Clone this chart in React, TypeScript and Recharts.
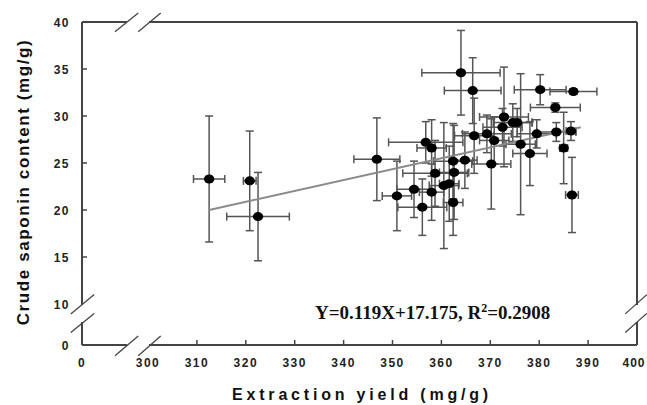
import React from 'react';
import { ScatterChart, Scatter, XAxis, YAxis, ErrorBar, ReferenceLine } from 'recharts';

// ---- data ----
const xValues = [312.5, 320.8, 322.5, 346.8, 350.9, 354.4, 356.1, 356.8, 358.0, 358.0, 358.7, 360.5, 361.6, 362.4, 362.4, 362.6, 364.0, 364.8, 366.4, 366.7, 369.3, 370.2, 370.8, 372.5, 372.8, 374.6, 375.5, 376.2, 378.1, 379.5, 380.2, 383.3, 383.5, 385.0, 386.7, 387.0, 386.5];
const yValues = [23.3, 23.1, 19.3, 25.4, 21.5, 22.2, 20.3, 27.2, 26.6, 21.9, 23.9, 22.6, 22.8, 20.8, 25.2, 24.0, 34.6, 25.3, 32.7, 27.9, 28.1, 24.9, 27.4, 28.8, 29.9, 29.3, 29.3, 27.0, 26.0, 28.1, 32.8, 30.9, 28.3, 26.6, 21.6, 32.6, 28.4];
const xErrors = [3.2, 1.3, 6.4, 4.7, 3.0, 3.5, 5.0, 7.6, 3.0, 2.5, 6.6, 3.0, 2.0, 2.0, 4.0, 3.0, 8.0, 2.5, 5.8, 4.0, 5.0, 4.0, 3.0, 4.0, 5.0, 4.0, 3.0, 3.0, 3.5, 4.0, 5.3, 5.1, 4.0, 0.8, 1.3, 4.8, 1.0];
const yErrors = [6.7, 5.3, 4.7, 4.4, 3.7, 3.0, 3.0, 2.2, 3.0, 3.0, 3.5, 6.7, 4.0, 3.5, 4.0, 5.0, 4.5, 3.0, 3.5, 4.0, 2.0, 4.8, 2.5, 2.0, 5.3, 2.0, 1.5, 7.5, 3.4, 1.5, 1.6, 0.5, 1.0, 3.8, 4.0, 0.3, 1.0];

// regression line end points
const fitX = [312.5, 388.5];
const fitY = [20.0, 28.8];

// axes (broken: the origin "0" is drawn just before the break)
const xAxisOrigin = 286.5; // position of the "0" label on the broken x axis
const yAxisOrigin = 5.64;  // position of the "0" label on the broken y axis
const xTickValues = [300, 310, 320, 330, 340, 350, 360, 370, 380, 390, 400];
const yTickValues = [10, 15, 20, 25, 30, 35, 40];
const xMax = 400;
const yMax = 40;

// break gaps (data units)
const xGap = [295.7, 300.2];
const yGap = [8.09, 9.89];

const equationText = 'Y=0.119X+17.175, R';
const equationTail = '=0.2908';
const xTitle = 'Extraction yield (mg/g)';
const yTitle = 'Crude saponin content (mg/g)';

const points = xValues.map((x, i) => ({ x, y: yValues[i], ex: xErrors[i], ey: yErrors[i] }));

const AXIS = '#444';
const SANS = '"Liberation Sans", Arial, sans-serif';
const SERIF = '"Liberation Serif", "Times New Roman", serif';

const XTick = (props: any) => {
  const { x, y, payload } = props;
  const v = payload.value;
  const label = v === xAxisOrigin ? '0' : String(v);
  const mark = v > 300 && v < xMax;
  const last = v === xMax;
  return (
    <g>
      {mark && <line x1={x} y1={y} x2={x} y2={y - 5} stroke={AXIS} strokeWidth={1.5} />}
      <text x={last ? x - 3 : x} y={y + 22} textAnchor="middle" fontFamily={SANS} fontWeight="bold" fontSize={12} letterSpacing={last ? 1 : 1.5} fill="#222">
        {label}
      </text>
    </g>
  );
};

const YTick = (props: any) => {
  const { x, y, payload } = props;
  const v = payload.value;
  const label = v === yAxisOrigin ? '0' : String(v);
  const mark = v > 10 && v < yMax;
  return (
    <g>
      {mark && <line x1={x} y1={y} x2={x + 5} y2={y} stroke={AXIS} strokeWidth={1.5} />}
      <text x={x - 12} y={y + 4.5} textAnchor="end" fontFamily={SANS} fontWeight="bold" fontSize={12} letterSpacing={1.5} fill="#222">
        {label}
      </text>
    </g>
  );
};

const Dot = (p: any) => <ellipse cx={p.cx} cy={p.cy} rx={5.2} ry={4.5} fill="#000" />;

const seg = (x1: number, y1: number, x2: number, y2: number, key: string, w = 2) => (
  <ReferenceLine
    key={key}
    segment={[{ x: x1, y: y1 }, { x: x2, y: y2 }]}
    stroke={AXIS}
    strokeWidth={w}
    ifOverflow="visible"
  />
);

export default function App() {
  const frame = [
    // bottom
    seg(xAxisOrigin, yAxisOrigin, xGap[0], yAxisOrigin, 'b1'),
    seg(xGap[1], yAxisOrigin, xMax, yAxisOrigin, 'b2'),
    // top
    seg(xAxisOrigin, yMax, xGap[0], yMax, 't1'),
    seg(xGap[1], yMax, xMax, yMax, 't2'),
    // left
    seg(xAxisOrigin, yMax, xAxisOrigin, yGap[1], 'l1'),
    seg(xAxisOrigin, yGap[0], xAxisOrigin, yAxisOrigin, 'l2'),
    // right
    seg(xMax, yMax, xMax, yGap[1], 'r1'),
    seg(xMax, yGap[0], xMax, yAxisOrigin, 'r2'),
    // break slashes: top and bottom
    seg(293.25, 38.97, 298.0, 40.96, 'st1', 1.3),
    seg(298.0, 38.97, 302.6, 40.96, 'st2', 1.3),
    seg(293.25, 4.5, 298.0, 6.6, 'sb1', 1.3),
    seg(298.0, 4.5, 302.6, 6.6, 'sb2', 1.3),
    // break slashes: left and right
    seg(284.2, 8.95, 289.0, 11.0, 'sl1', 1.3),
    seg(284.2, 6.97, 289.0, 9.0, 'sl2', 1.3),
    seg(397.6, 8.95, 402.0, 11.0, 'sr1', 1.3),
    seg(397.6, 6.97, 402.0, 9.0, 'sr2', 1.3),
  ];

  return (
    <div style={{ position: 'absolute', left: 0, top: 0, width: 647, height: 405, background: '#fff' }}>
      <ScatterChart width={647} height={405} margin={{ top: 22, right: 10, left: 0, bottom: 0 }}>
        <XAxis
          type="number"
          dataKey="x"
          domain={[xAxisOrigin, xMax]}
          ticks={[xAxisOrigin, ...xTickValues]}
          interval={0}
          allowDataOverflow
          height={60}
          axisLine={false}
          tickLine={false}
          tickSize={0}
          tickMargin={0}
          tick={<XTick />}
        />
        <YAxis
          type="number"
          dataKey="y"
          domain={[yAxisOrigin, yMax]}
          ticks={[yAxisOrigin, ...yTickValues]}
          interval={0}
          allowDataOverflow
          width={82}
          axisLine={false}
          tickLine={false}
          tickSize={0}
          tickMargin={0}
          tick={<YTick />}
        />
        {frame}
        <Scatter data={points} dataKey="y" shape={<Dot />} isAnimationActive={false}>
          <ErrorBar dataKey="ex" direction="x" width={4} stroke="#555" strokeWidth={1.5} isAnimationActive={false} />
          <ErrorBar dataKey="ey" direction="y" width={4} stroke="#555" strokeWidth={1.5} isAnimationActive={false} />
        </Scatter>
        <ReferenceLine
          segment={[{ x: fitX[0], y: fitY[0] }, { x: fitX[1], y: fitY[1] }]}
          stroke="#8a8a8a"
          strokeWidth={2}
          ifOverflow="visible"
        />
      </ScatterChart>
      <svg width={647} height={405} style={{ position: 'absolute', left: 0, top: 0, pointerEvents: 'none' }}>
        <text x={315} y={319} fontFamily={SERIF} fontWeight="bold" fontSize={19} fill="#111">
          {equationText}
          <tspan dy={-7} fontSize={12}>2</tspan>
          <tspan dy={7}>{equationTail}</tspan>
        </text>
        <text x={362} y={400} textAnchor="middle" fontFamily={SANS} fontWeight="bold" fontSize={16} letterSpacing={3.8} fill="#111">
          {xTitle}
        </text>
        <text
          x={0}
          y={0}
          transform="translate(29,182) rotate(-90)"
          textAnchor="middle"
          fontFamily={SANS}
          fontWeight="bold"
          fontSize={17}
          letterSpacing={1.6}
          fill="#111"
        >
          {yTitle}
        </text>
      </svg>
    </div>
  );
}
